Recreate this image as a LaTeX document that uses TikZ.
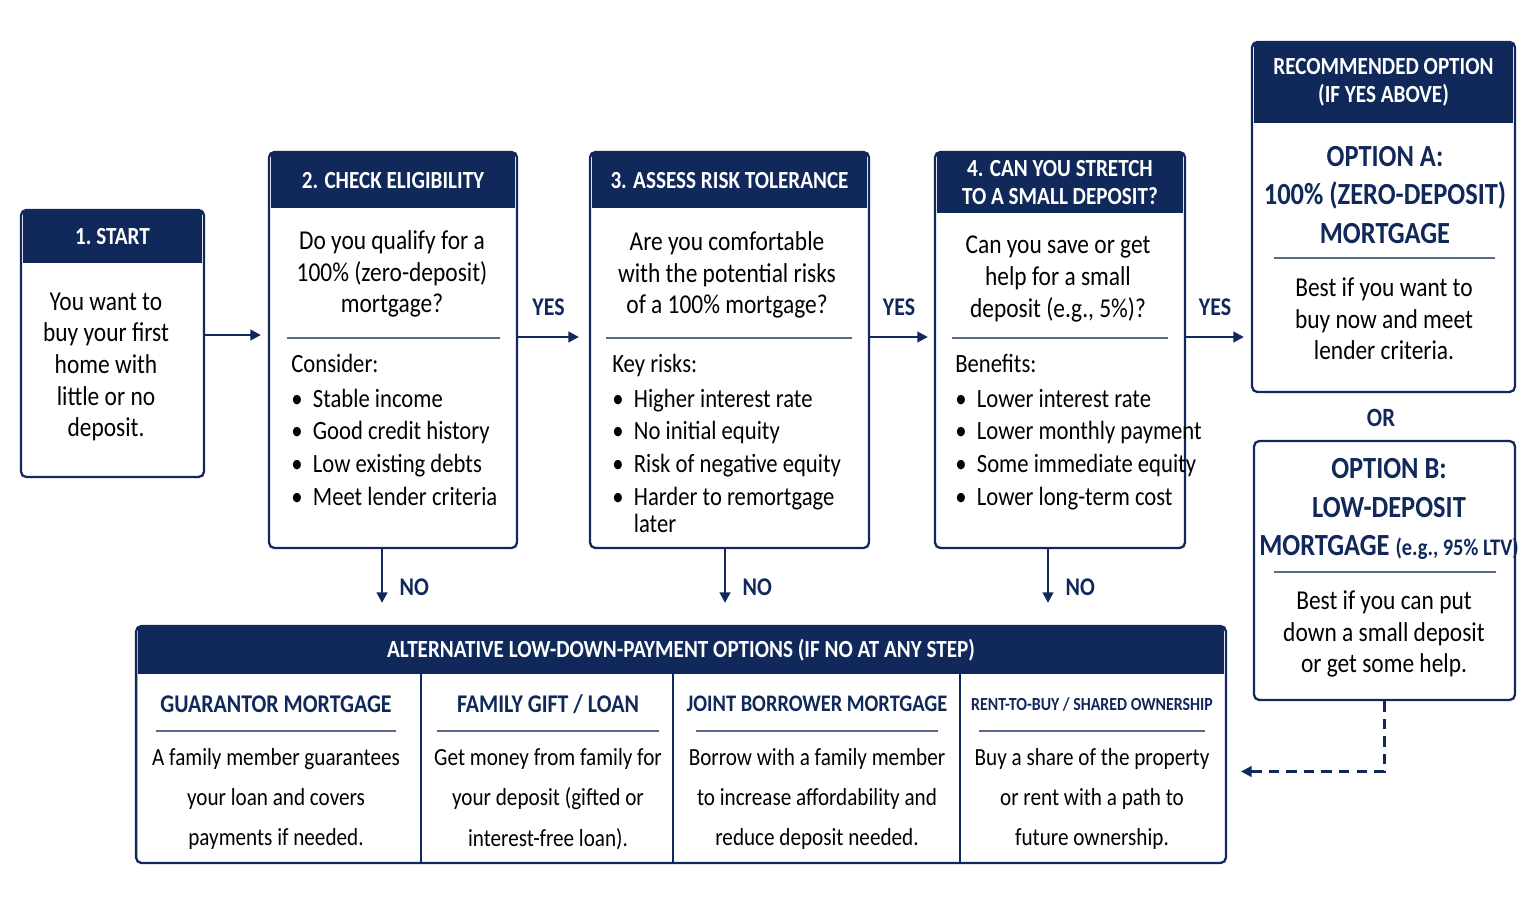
\documentclass[tikz,border=0pt]{standalone}
\usepackage{fontspec}
\setmainfont{Carlito}[FakeStretch=0.86]
\usetikzlibrary{arrows.meta,positioning,calc}
\definecolor{navy}{HTML}{10295A}

\begin{document}
\begin{tikzpicture}[x=0.02cm, y=-0.02cm,
    box/.style={draw=navy, line width=1.3pt, rounded corners=3pt, fill=white, inner sep=0pt},
    hdr/.style={fill=navy, text=white, font=\fontsize{14}{16}\selectfont\bfseries, align=center, inner sep=0pt, anchor=north},
    body/.style={text=black, font=\fontsize{15.5}{18}\selectfont, align=center},
    list/.style={text=black, font=\fontsize{15}{18.6}\selectfont, align=left, anchor=north west, inner sep=0pt},
    ttl/.style={text=navy, font=\fontsize{17.5}{22}\selectfont\bfseries, align=center},
    lbl/.style={text=navy, font=\fontsize{14.5}{16}\selectfont\bfseries},
    rule/.style={draw=navy!70, line width=0.8pt},
    arr/.style={-{Triangle[length=6pt,width=6pt]}, draw=navy, line width=1.4pt}]
  \useasboundingbox (0,0) rectangle (1535,906);

  % top row boxes
  \node[box, minimum width=3.66cm, minimum height=5.34cm] (start) at (112.5,343.5) {};
  \node[hdr, minimum width=3.6cm, minimum height=1.04cm] (starth) at ([yshift=-0.03cm]start.north) {1.\ START};
  \node[body] (startt) at (106,367) {You want to\\buy your first\\home with\\little or no\\deposit.};

  \node[box, minimum width=4.96cm, minimum height=7.92cm] (elig) at (393,350) {};
  \node[hdr, minimum width=4.9cm, minimum height=1.1cm] (eligh) at ([yshift=-0.03cm]elig.north) {2. CHECK ELIGIBILITY};
  \node[body] (eligq) at (392,274) {Do you qualify for a\\100\% (zero-deposit)\\mortgage?};
  \draw[rule] (287,338) -- (500,338);
  \node[list] (eligl) at (291,354) {Consider:\\[1pt]
    \textbullet\ \ Stable income\\ \textbullet\ \ Good credit history\\
    \textbullet\ \ Low existing debts\\ \textbullet\ \ Meet lender criteria};

  \node[box, minimum width=5.58cm, minimum height=7.92cm] (risk) at (729.5,350) {};
  \node[hdr, minimum width=5.52cm, minimum height=1.1cm] (riskh) at ([yshift=-0.03cm]risk.north) {3. ASSESS RISK TOLERANCE};
  \node[body] (riskq) at (727,275) {Are you comfortable\\with the potential risks\\of a 100\% mortgage?};
  \draw[rule] (606,338) -- (852,338);
  \node[list] (riskl) at (612,354) {Key risks:\\[1pt]
    \textbullet\ \ Higher interest rate\\ \textbullet\ \ No initial equity\\
    \textbullet\ \ Risk of negative equity\\ \textbullet\ \ Harder to remortgage\\[-3pt] \phantom{\textbullet}\ \ later};

  \node[box, minimum width=5.0cm, minimum height=7.92cm] (stretch) at (1060,350) {};
  \node[hdr, minimum width=4.94cm, minimum height=1.2cm] (stretchh) at ([yshift=-0.03cm]stretch.north) {4. CAN YOU STRETCH\\TO A SMALL DEPOSIT?};
  \node[body] (stretchq) at (1058,279) {Can you save or get\\help for a small\\deposit (e.g., 5\%)?};
  \draw[rule] (952,338) -- (1168,338);
  \node[list] (stretchl) at (955,354) {Benefits:\\[1pt]
    \textbullet\ \ Lower interest rate\\ \textbullet\ \ Lower monthly payment\\
    \textbullet\ \ Some immediate equity\\ \textbullet\ \ Lower long-term cost};

  % options
  \node[box, minimum width=5.26cm, minimum height=7.0cm] (opta) at (1383.5,217) {};
  \node[hdr, minimum width=5.2cm, minimum height=1.6cm] (optah) at ([yshift=-0.03cm]opta.north) {RECOMMENDED OPTION\\(IF YES ABOVE)};
  \node[ttl] (optat) at (1385,195) {OPTION A:\\100\% (ZERO-DEPOSIT)\\MORTGAGE};
  \draw[rule] (1274,258) -- (1495,258);
  \node[body] (optab) at (1384,319) {Best if you want to\\buy now and meet\\lender criteria.};

  \node[lbl, font=\fontsize{15}{16}\selectfont\bfseries] (or) at (1381,418) {OR};

  \node[box, minimum width=5.22cm, minimum height=5.18cm] (optb) at (1384.5,570.5) {};
  \node[ttl] (optbt) at (1389,509) {OPTION B:\\LOW-DEPOSIT\\MORTGAGE {\fontsize{13.5}{15}\selectfont(e.g., 95\% LTV)}};
  \draw[rule] (1274,572) -- (1496,572);
  \node[body] (optbb) at (1384,634) {Best if you can put\\down a small deposit\\or get some help.};

  % alternatives
  \node[box, minimum width=21.8cm, minimum height=4.74cm] (alt) at (681,744.5) {};
  \node[hdr, minimum width=21.74cm, minimum height=0.94cm] (alth) at ([yshift=-0.03cm]alt.north) {ALTERNATIVE LOW-DOWN-PAYMENT OPTIONS (IF NO AT ANY STEP)};
  \foreach \x in {421,673,960} \draw[navy, line width=1.2pt] (\x,673) -- (\x,863);
  \foreach \x/\w/\t/\b in {
      276/248/{GUARANTOR MORTGAGE}/{A family member guarantees\\your loan and covers\\payments if needed.},
      548/230/{FAMILY GIFT / LOAN}/{Get money from family for\\your deposit (gifted or\\interest-free loan).},
      817/250/{\fontsize{13.5}{16}\selectfont JOINT BORROWER MORTGAGE}/{Borrow with a family member\\to increase affordability and\\reduce deposit needed.},
      1092/234/{\fontsize{10.5}{14}\selectfont RENT-TO-BUY / SHARED OWNERSHIP}/{Buy a share of the property\\or rent with a path to\\future ownership.}} {
    \node[lbl, font=\fontsize{14.5}{16}\selectfont\bfseries] at (\x,704) {\t};
    \draw[rule] (\x-\w/2+4,731) -- (\x+\w/2-4,731);
    \node[body, font=\fontsize{14}{23}\selectfont] at (\x,799) {\b};
  }

  % connectors
  \draw[arr] (start.east |- 0,335) -- ([xshift=-0.14cm]elig.west |- 0,335);
  \draw[arr] (elig.east |- 0,337) -- node[lbl, above=8pt] {YES} ([xshift=-0.2cm]risk.west |- 0,337);
  \draw[arr] (risk.east |- 0,337) -- node[lbl, above=8pt] {YES} ([xshift=-0.12cm]stretch.west |- 0,337);
  \draw[arr] (stretch.east |- 0,337) -- node[lbl, above=8pt] {YES} ([xshift=-0.14cm]opta.west |- 0,337);
  \draw[arr, shorten >=0.44cm] (elig.south -| 382,0) -- node[lbl, right=6pt] {NO} (alt.north -| 382,0);
  \draw[arr, shorten >=0.44cm] (risk.south -| 725,0) -- node[lbl, right=6pt] {NO} (alt.north -| 725,0);
  \draw[arr, shorten >=0.44cm] (stretch.south -| 1048,0) -- node[lbl, right=6pt] {NO} (alt.north -| 1048,0);
  \draw[arr, dashed, dash pattern=on 6pt off 4pt] (optb.south) |- ([xshift=0.28cm,yshift=-0.54cm]alt.east);
\end{tikzpicture}
\end{document}
